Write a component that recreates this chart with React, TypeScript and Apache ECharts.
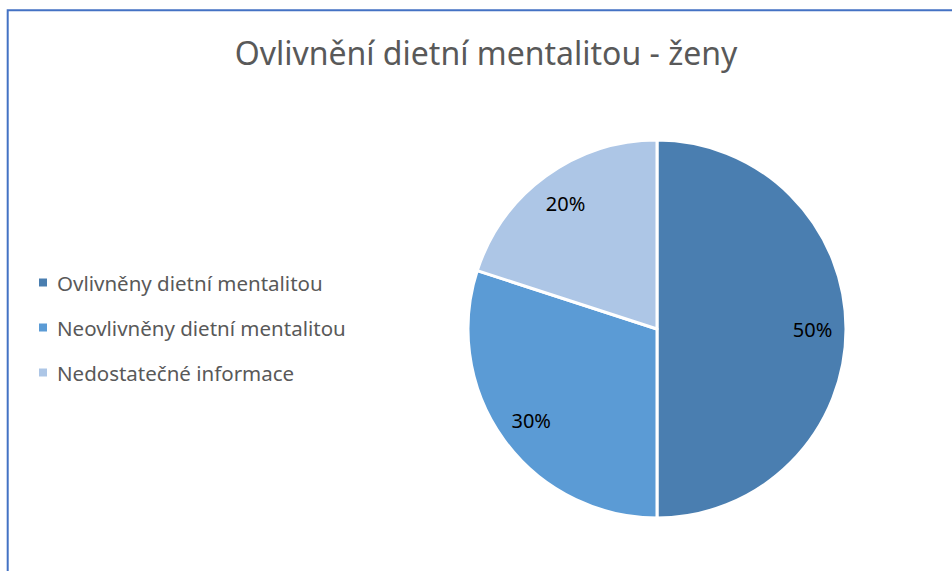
import React, { useEffect, useRef } from "react";
import * as echarts from "echarts";

const categories = ["Ovlivněny dietní mentalitou", "Neovlivněny dietní mentalitou", "Nedostatečné informace"];
const values = [50, 30, 20];
const colors = ["#4a7eb0", "#5b9bd5", "#adc6e6"];
const titleText = "Ovlivnění dietní mentalitou - ženy";

export default function App() {
  const ref = useRef<HTMLDivElement>(null);
  useEffect(() => {
    if (!ref.current) return;
    const chart = echarts.init(ref.current, undefined, { renderer: "svg" });
    const data = categories.map((name, i) => ({ name, value: values[i] }));
    const font = "'Noto Sans', sans-serif";
    chart.setOption({
      animation: false,
      color: colors,
      title: {
        text: titleText,
        left: 481,
        top: 31,
        textAlign: "center",
        textStyle: { fontFamily: font, fontSize: 32, fontWeight: "normal", color: "#595959" },
      },
      legend: {
        orient: "vertical",
        left: 32,
        top: 267,
        icon: "rect",
        itemWidth: 10,
        itemHeight: 10,
        itemGap: 24,
        data: categories,
        textStyle: { fontFamily: font, fontSize: 20.5, lineHeight: 20, color: "#595959", padding: [0, 0, 0, 4] },
        selectedMode: false,
      },
      graphic: [
        {
          type: "rect",
          shape: { x: 7.7, y: 10.3, width: 1200, height: 1200 },
          style: { fill: "none", stroke: "#4472c4", lineWidth: 2 },
          silent: true,
        },
      ],
      series: [
        {
          type: "pie",
          center: [657, 329],
          radius: [0, 189],
          startAngle: 90,
          clockwise: true,
          data,
          itemStyle: { borderColor: "#ffffff", borderWidth: 3 },
          label: { show: false },
          labelLine: { show: false },
          silent: true,
        },
        {
          type: "pie",
          center: [657, 329],
          radius: [116, 189],
          startAngle: 90,
          clockwise: true,
          data,
          itemStyle: { color: "rgba(0,0,0,0)", borderWidth: 0 },
          label: {
            show: true,
            position: "inside",
            formatter: (p: any) => p.value + "%",
            fontFamily: font,
            fontSize: 20,
            color: "#000000",
          },
          labelLine: { show: false },
          silent: true,
        },
      ],
    });
    return () => chart.dispose();
  }, []);
  return <div ref={ref} style={{ position: "absolute", left: 0, top: 0, width: 952, height: 571 }} />;
}
